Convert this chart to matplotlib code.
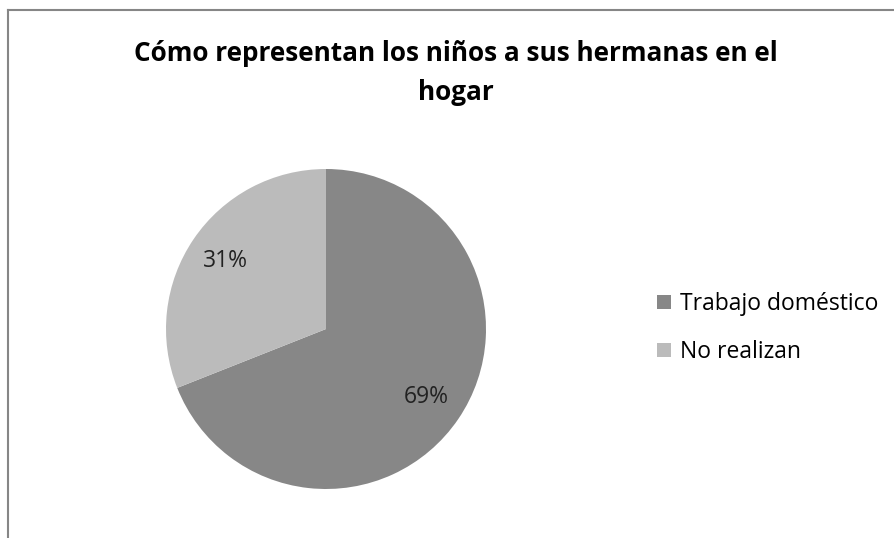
import matplotlib.pyplot as plt
from matplotlib.lines import Line2D

labels = ["Trabajo doméstico", "No realizan"]
values = [69, 31]
colors = ["#878787", "#bbbbbb"]
title = "Cómo representan los niños a sus hermanas en el\nhogar"

plt.rcParams['font.family'] = ['Open Sans', 'DejaVu Sans']

W, H = 895, 538
fig = plt.figure(figsize=(W / 100, H / 100), dpi=100)

# frame lines (top and left, as in the cropped reference)
fig.add_artist(Line2D([8 / W, 8 / W], [0, 1 - 10 / H], transform=fig.transFigure,
                      color="#868686", lw=1.5))
fig.add_artist(Line2D([8 / W, 1], [1 - 10 / H, 1 - 10 / H], transform=fig.transFigure,
                      color="#868686", lw=1.5))

cx, cy, r = 326, 329, 160
ax = fig.add_axes([(cx - r) / W, (H - cy - r) / H, 2 * r / W, 2 * r / H])
wedges, _, autotexts = ax.pie(values, colors=colors, startangle=90, counterclock=False,
                              autopct='%1.0f%%', pctdistance=0.76, radius=1,
                              textprops=dict(fontsize=16.5, color="#222222"))
ax.set_xlim(-1, 1)
ax.set_ylim(-1, 1)
ax.set_aspect('equal')
ax.axis('off')

fig.text(456 / W, 1 - 73 / H, title, ha='center', va='center', fontsize=18.8,
         fontweight='bold', linespacing=1.55)

fig.legend(wedges, labels, loc='center left', bbox_to_anchor=(646 / W, 1 - 328 / H),
           frameon=False, fontsize=16.5, handlelength=0.6, handleheight=0.6,
           handletextpad=0.4, labelspacing=1.05, borderpad=0)

fig.savefig("out.png", dpi=100)
